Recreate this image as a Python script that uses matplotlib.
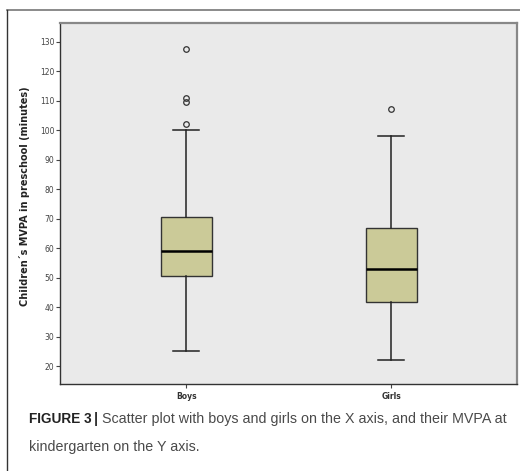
import matplotlib.pyplot as plt
from matplotlib.lines import Line2D

# MVPA in preschool (minutes), five-number summary per group
groups = ["Boys", "Girls"]
whisker_low = [25.2, 22.0]
q1 = [50.7, 41.7]
median = [59.1, 52.9]
q3 = [70.7, 66.9]
whisker_high = [100.0, 98.0]
outliers = [[102.0, 109.5, 110.8, 127.4], [107.2]]

stats = []
for i, name in enumerate(groups):
    stats.append({
        "label": name,
        "whislo": whisker_low[i],
        "q1": q1[i],
        "med": median[i],
        "q3": q3[i],
        "whishi": whisker_high[i],
        "fliers": outliers[i],
    })

fig = plt.figure(figsize=(5.2, 4.71), dpi=100)
ax = fig.add_axes([0.1154, 0.1847, 0.8788, 0.7665])
ax.set_facecolor("#eaeaea")

ax.bxp(stats, positions=[1, 2], widths=0.25, patch_artist=True,
       boxprops=dict(facecolor="#cbca98", edgecolor="#333333", linewidth=1.0),
       medianprops=dict(color="black", linewidth=1.8),
       whiskerprops=dict(color="#222222", linewidth=1.1),
       capprops=dict(color="#222222", linewidth=1.1),
       capwidths=0.125,
       flierprops=dict(marker="o", markersize=4, markerfacecolor="none",
                       markeredgecolor="#333333", markeredgewidth=0.9))

ax.set_xlim(0.385, 2.613)
ax.set_ylim(14, 136.3)
ax.set_yticks(range(20, 131, 10))
ax.tick_params(axis="y", labelsize=5.5, labelcolor="#444444", length=3,
               width=0.8, color="#444444", pad=1)
ax.tick_params(axis="x", labelsize=5.5, labelcolor="#333333", length=3,
               width=0.8, color="#444444", pad=3)
for lbl in ax.get_xticklabels():
    lbl.set_fontweight("bold")

for side in ["left", "bottom"]:
    ax.spines[side].set_color("#333333")
    ax.spines[side].set_linewidth(1.0)
for side in ["top", "right"]:
    ax.spines[side].set_color("#888888")
    ax.spines[side].set_linewidth(1.6)

ax.set_ylabel("Children´s MVPA in preschool (minutes)", fontsize=7,
              fontweight="bold", color="#222222")
ax.yaxis.set_label_coords(-0.066, 0.52)

# panel frame
fig.add_artist(Line2D([7 / 520, 1], [1 - 10 / 471, 1 - 10 / 471],
                      color="#777777", linewidth=1.2))
fig.add_artist(Line2D([7 / 520, 7 / 520], [0, 1 - 10 / 471],
                      color="#333333", linewidth=1.0))

# caption
cap = dict(va="center", family="Liberation Sans")
y1 = 1 - 419 / 471
fig.text(29 / 520, y1, "FIGURE 3", fontsize=9.8, fontweight="bold",
         color="#222222", **cap)
fig.text(94 / 520, y1, "|", fontsize=10.3, fontweight="bold",
         color="#333333", **cap)
fig.text(102 / 520, y1,
         "Scatter plot with boys and girls on the X axis, and their MVPA at",
         fontsize=10.3, color="#4a4a4a", **cap)
fig.text(29 / 520, 1 - 447 / 471, "kindergarten on the Y axis.",
         fontsize=10.3, color="#4a4a4a", **cap)

fig.savefig("out.png", dpi=100)
